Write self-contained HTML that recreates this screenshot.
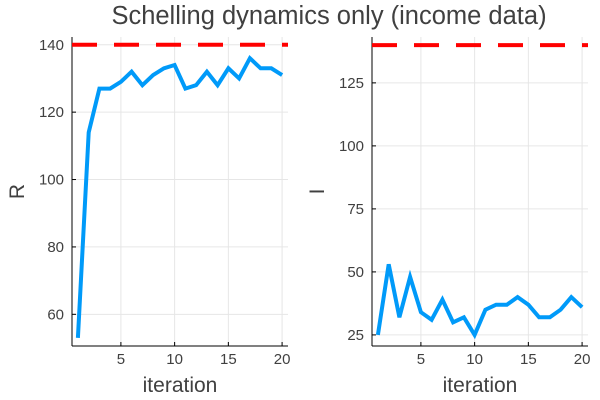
<!DOCTYPE html>
<html><head><meta charset="utf-8"><style>
body{margin:0;background:#fff;}
svg{display:block;font-family:"Liberation Sans",sans-serif;}
</style></head><body>
<svg id="c" width="600" height="400">
<text x="329" y="24" text-anchor="middle" font-size="25.5" fill="#404040">Schelling dynamics only (income data)</text>
</svg>
<script>
const iterations=[1,2,3,4,5,6,7,8,9,10,11,12,13,14,15,16,17,18,19,20];
const rValues=[53,114,127,127,129,132,128,131,133,134,127,128,132,128,133,130,136,133,133,131];
const iValues=[25,53,32,48,34,31,39,30,32,25,35,37,37,40,37,32,32,35,40,36];
const targetR=140;
const targetI=140;
const rTicks=[60,80,100,120,140];
const iTicks=[25,50,75,100,125];
const xTicks=[5,10,15,20];
const NS="http://www.w3.org/2000/svg";
const svg=document.getElementById('c');
function mk(tag,attrs,parent){const e=document.createElementNS(NS,tag);for(const k in attrs)e.setAttribute(k,attrs[k]);(parent||svg).appendChild(e);return e;}
function panel(p){
  const g=mk('g',{});
  
  
  const x=v=>p.x0+(v-0.45)/(20.55-0.45)*(p.x1-p.x0);
  const y=v=>p.y1-(v-p.ymin)/(p.ymax-p.ymin)*(p.y1-p.y0);
  xTicks.forEach(t=>{mk('line',{x1:x(t),x2:x(t),y1:p.y0,y2:p.y1,stroke:'#e6e6e6','stroke-width':1},g);
    const tl=mk('text',{x:x(t),y:p.y1+18,'text-anchor':'middle','font-size':15,fill:'#404040'},g);tl.textContent=t;
    
    mk('line',{x1:x(t),x2:x(t),y1:p.y1,y2:p.y1-4,stroke:'#000'},g);});
  p.ticks.forEach(t=>{mk('line',{x1:p.x0,x2:p.x1,y1:y(t),y2:y(t),stroke:'#e6e6e6','stroke-width':1},g);
    const tl=mk('text',{x:p.x0-8,y:y(t)+5,'text-anchor':'end','font-size':15,fill:'#404040'},g);tl.textContent=t;
    
    mk('line',{x1:p.x0,x2:p.x0+4,y1:y(t),y2:y(t),stroke:'#000'},g);});
  mk('line',{x1:p.x0,x2:p.x0,y1:p.y0,y2:p.y1,stroke:'#000','stroke-width':1},g);
  mk('line',{x1:p.x0,x2:p.x1,y1:p.y1,y2:p.y1,stroke:'#000','stroke-width':1},g);
  const tgt=mk('line',{x1:p.x0,x2:p.x1,y1:y(p.target),y2:y(p.target),stroke:'#ff0000','stroke-width':4,'stroke-dasharray':'25 17'},g);
  
  const d=iterations.map((it,i)=>(i?'L':'M')+x(it).toFixed(1)+','+y(p.vals[i]).toFixed(1)).join('');
  const ln=mk('path',{d:d,fill:'none',stroke:'#009af9','stroke-width':4,'stroke-linejoin':'miter'},g);
  
  const xl=mk('text',{x:(p.x0+p.x1)/2,y:392,'text-anchor':'middle','font-size':21,fill:'#404040'},g);xl.textContent='iteration';
  
  const yl=mk('text',{x:p.ylx,y:(p.y0+p.y1)/2,'text-anchor':'middle','font-size':21,fill:'#404040',transform:`rotate(-90 ${p.ylx} ${(p.y0+p.y1)/2})`},g);yl.textContent=p.ylabel;
  
}
panel({name:'panel-r',x0:72,x1:288,y0:37,y1:346,ymin:50.6,ymax:142.3,ticks:rTicks,vals:rValues,target:targetR,ylabel:'R',ylx:24});
panel({name:'panel-i',x0:372,x1:588,y0:37,y1:346,ymin:20.6,ymax:143.2,ticks:iTicks,vals:iValues,target:targetI,ylabel:'I',ylx:324});
</script>
</body></html>
